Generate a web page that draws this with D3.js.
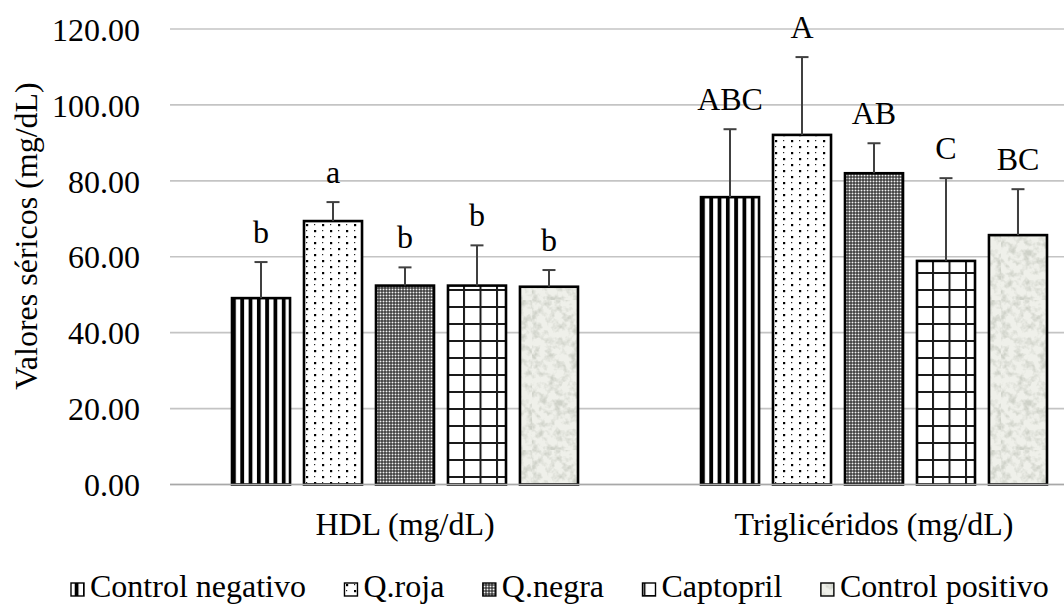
<!DOCTYPE html>
<html><head><meta charset="utf-8">
<script src="https://cdn.jsdelivr.net/npm/d3@7"></script>
<style>
html,body{margin:0;padding:0;background:#fff;}
svg{display:block;}
</style></head>
<body>
<svg id="chart" width="1064" height="605"></svg>
<script>
const categories = ["HDL (mg/dL)", "Triglicéridos (mg/dL)"];
const seriesNames = ["Control negativo", "Q.roja", "Q.negra", "Captopril", "Control positivo"];
const hdlMeans = [49.1, 69.4, 52.4, 52.4, 52.1];
const hdlErrTop = [58.6, 74.4, 57.2, 63.0, 56.5];
const trigMeans = [75.7, 92.1, 82.0, 58.9, 65.7];
const trigErrTop = [93.6, 112.6, 89.9, 80.7, 77.8];
const hdlLetters = ["b", "a", "b", "b", "b"];
const trigLetters = ["ABC", "A", "AB", "C", "BC"];
const yTicks = [0, 20, 40, 60, 80, 100, 120];
const yTitle = "Valores séricos (mg/dL)";

const means = [hdlMeans, trigMeans];
const errTops = [hdlErrTop, trigErrTop];
const letters = [hdlLetters, trigLetters];

const svg = d3.select("#chart");
const FS = 32;
function styleText(sel){ return sel.style("font-family", '"Liberation Serif"').style("font-size", FS + "px").attr("fill", "#000"); }

// patterns
const defs = svg.append("defs");
const patIds = ["p0","p1","p2","p3","p4"];
let p = defs.append("pattern").attr("id","p0").attr("patternUnits","userSpaceOnUse").attr("width",8.3).attr("height",8);
p.append("rect").attr("width",8.3).attr("height",8).attr("fill","#fff");
p.append("rect").attr("x",0).attr("width",3.8).attr("height",8).attr("fill","#000");

p = defs.append("pattern").attr("id","p1").attr("patternUnits","userSpaceOnUse").attr("width",16).attr("height",12);
p.append("rect").attr("width",16).attr("height",12).attr("fill","#fff");
p.append("rect").attr("x",2).attr("y",2).attr("width",2.2).attr("height",2.2).attr("fill","#000");
p.append("rect").attr("x",10).attr("y",8).attr("width",2.2).attr("height",2.2).attr("fill","#000");
p.append("rect").attr("x",10).attr("y",2).attr("width",1.2).attr("height",1.2).attr("fill","#222");
p.append("rect").attr("x",2).attr("y",8).attr("width",1.2).attr("height",1.2).attr("fill","#222");

p = defs.append("pattern").attr("id","p2").attr("patternUnits","userSpaceOnUse").attr("width",3).attr("height",3);
p.append("rect").attr("width",3).attr("height",3).attr("fill","#111");
p.append("rect").attr("x",0.5).attr("y",0.5).attr("width",2).attr("height",2).attr("fill","#f4f4f4");

p = defs.append("pattern").attr("id","p3").attr("patternUnits","userSpaceOnUse").attr("width",16.5).attr("height",17);
p.append("rect").attr("width",16.5).attr("height",17).attr("fill","#fff");
p.append("rect").attr("x",0).attr("width",2).attr("height",17).attr("fill","#1a1a1a");
p.append("rect").attr("y",0).attr("width",16.5).attr("height",2).attr("fill","#1a1a1a");

const f = defs.append("filter").attr("id","marble").attr("x",0).attr("y",0).attr("width","100%").attr("height","100%");
f.append("feTurbulence").attr("type","fractalNoise").attr("baseFrequency","0.13").attr("numOctaves",3).attr("seed",7).attr("result","n");
f.append("feColorMatrix").attr("in","n").attr("type","matrix")
  .attr("values","0 0 0 0 0.62  0 0 0 0 0.64  0 0 0 0 0.58  3.0 0 0 0 -1.3");
p = defs.append("pattern").attr("id","p4").attr("patternUnits","userSpaceOnUse").attr("width",150).attr("height",150);
p.append("rect").attr("width",150).attr("height",150).attr("fill","#eff0ea");
p.append("rect").attr("width",150).attr("height",150).attr("filter","url(#marble)");

// scales
const y = d3.scaleLinear().domain([0, 120]).range([484.5, 29]);
const x0 = d3.scaleBand().domain(categories).range([170.5, 1108.5]).paddingInner(0.2623).paddingOuter(0.13115);
const x1 = d3.scaleBand().domain(seriesNames).range([0, x0.bandwidth()]).paddingInner(0.194).paddingOuter(0);

// y axis labels
const yAxis = d3.axisLeft(y).tickValues(yTicks).tickSize(0).tickFormat(d3.format(".2f"));
const gAxis = svg.append("g").attr("transform","translate(140,0)").call(yAxis);
gAxis.attr("font-family", null).attr("font-size", null);
gAxis.select(".domain").remove();
styleText(gAxis.selectAll("text")).attr("x",0).attr("dy","0.35em");

// gridlines
svg.append("g").selectAll("line").data(yTicks).join("line")
  .attr("x1",170).attr("x2",1064).attr("y1",d=>y(d)).attr("y2",d=>y(d))
  .attr("stroke","#c4c4c4").attr("stroke-width",1.6);

// bars
const groups = svg.append("g").selectAll("g").data(categories).join("g")
  .attr("transform",d=>`translate(${x0(d)},0)`);
groups.each(function(cat, ci){
  const g = d3.select(this);
  const rows = seriesNames.map((s,si)=>({s,si,v:means[ci][si],e:errTops[ci][si],l:letters[ci][si]}));
  g.selectAll("rect").data(rows).join("rect")
    .attr("x",d=>x1(d.s)).attr("width",x1.bandwidth())
    .attr("y",d=>y(d.v)).attr("height",d=>y(0)-y(d.v))
    .attr("fill",d=>`url(#${patIds[d.si]})`)
    .attr("stroke","#000").attr("stroke-width",2.6);
  const cx = d=>x1(d.s)+x1.bandwidth()/2;
  g.selectAll("line.err").data(rows).join("line").attr("class","err")
    .attr("x1",cx).attr("x2",cx).attr("y1",d=>y(d.v)).attr("y2",d=>y(d.e))
    .attr("stroke","#404040").attr("stroke-width",2);
  g.selectAll("line.cap").data(rows).join("line").attr("class","cap")
    .attr("x1",d=>cx(d)-6.5).attr("x2",d=>cx(d)+6.5).attr("y1",d=>y(d.e)).attr("y2",d=>y(d.e))
    .attr("stroke","#404040").attr("stroke-width",2);
  styleText(g.selectAll("text").data(rows).join("text"))
    .attr("x",cx).attr("y",d=>y(d.e)-19).attr("text-anchor","middle").text(d=>d.l);
});
// zero line
svg.append("line").attr("x1",170).attr("x2",1064).attr("y1",y(0)).attr("y2",y(0))
  .attr("stroke","#a8a8a8").attr("stroke-width",1.6);

// category labels
styleText(svg.append("g").selectAll("text").data(categories).join("text"))
  .attr("x",d=>x0(d)+x0.bandwidth()/2).attr("y",535).attr("text-anchor","middle").text(d=>d);

// y title
styleText(svg.append("text")).attr("transform","translate(37,236) rotate(-90)").attr("text-anchor","middle").text(yTitle);

// legend
const leg = svg.append("g");
let lx = 71;
seriesNames.forEach((s,i)=>{
  leg.append("rect").attr("x",lx).attr("y",583).attr("width",13).attr("height",13)
    .attr("fill",`url(#${patIds[i]})`).attr("stroke","#000").attr("stroke-width",1.4);
  const t = styleText(leg.append("text")).attr("x",lx+19).attr("y",597).text(s);
  lx = lx + 19 + t.node().getComputedTextLength() + 38.5;
});
</script>
</body></html>
